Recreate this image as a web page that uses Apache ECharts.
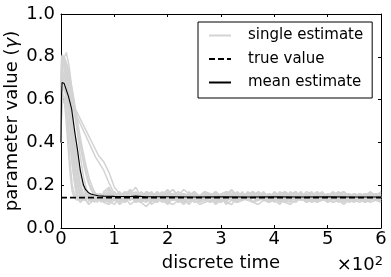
<!DOCTYPE html>
<html><head><meta charset="utf-8">
<script src="https://cdn.jsdelivr.net/npm/echarts@6/dist/echarts.min.js"></script>
<style>html,body{margin:0;padding:0;background:#fff}#c{width:391px;height:277px}</style>
</head><body><div id="c"></div>
<script>
// ---- data ----
const xTicks = [0, 1, 2, 3, 4, 5, 6];            // ×10^2
const yTicks = [0.0, 0.2, 0.4, 0.6, 0.8, 1.0];
const trueValue = 0.142;
const meanEstimate = [[0,0.40],[1,0.62],[2,0.68],[3,0.688],[6,0.675],[10,0.645],[14,0.615],[20,0.555],[26,0.445],[31,0.365],[36,0.272],[42,0.202],[46,0.18],[51,0.166],[56,0.159],[61,0.155],[70,0.151],[80,0.149],[100,0.148],[130,0.147],[140,0.149],[160,0.146],[200,0.146],[250,0.145],[300,0.146],[350,0.145],[400,0.146],[450,0.145],[500,0.146],[550,0.145],[600,0.145]];

// early (rise & decay) part of each single estimate, [time, value]
const early1  = [[0,.4],[1,.60],[3,.63],[6,.60],[9,.52],[12,.42],[15,.32],[18,.23],[21,.17],[25,.14],[30,.13],[36,.15],[44,.13],[52,.15],[60,.14],[70,.13]];
const early2  = [[0,.4],[1,.70],[3,.72],[6,.68],[9,.60],[12,.49],[15,.38],[18,.28],[21,.20],[25,.16],[30,.14],[37,.12],[45,.15],[53,.13],[62,.16],[71,.14]];
const early3  = [[0,.4],[1,.58],[3,.62],[6,.61],[10,.56],[14,.48],[18,.38],[22,.28],[26,.20],[30,.15],[36,.12],[44,.14],[52,.11],[60,.13],[68,.15],[75,.12]];
const early4  = [[0,.4],[1,.56],[3,.60],[6,.60],[9,.57],[13,.50],[17,.40],[21,.30],[25,.22],[29,.16],[34,.13],[40,.15],[47,.13],[55,.16],[63,.13],[71,.14]];
const early5  = [[0,.4],[1,.62],[3,.66],[7,.64],[11,.60],[15,.52],[19,.42],[23,.31],[27,.22],[31,.16],[36,.13],[42,.15],[50,.12],[58,.14],[66,.16],[73,.13]];
const early6  = [[0,.4],[1,.70],[3,.73],[6,.72],[10,.67],[14,.60],[19,.50],[24,.39],[29,.29],[34,.21],[39,.16],[45,.13],[52,.15],[60,.14],[68,.12],[75,.15]];
const early7  = [[0,.4],[1,.72],[3,.78],[6,.76],[10,.70],[15,.62],[20,.52],[25,.40],[30,.28],[35,.20],[40,.16],[48,.14],[56,.15],[64,.13],[72,.16]];
const early8  = [[0,.4],[1,.64],[3,.70],[7,.71],[11,.68],[16,.60],[21,.50],[26,.39],[31,.29],[36,.21],[41,.17],[47,.15],[55,.13],[63,.15],[71,.14]];
const early9  = [[0,.4],[1,.78],[3,.80],[7,.77],[11,.72],[16,.64],[22,.53],[28,.41],[34,.30],[40,.22],[46,.17],[53,.15],[61,.14],[69,.16],[76,.14]];
const early10 = [[0,.4],[1,.60],[4,.66],[8,.65],[12,.62],[17,.56],[23,.47],[29,.37],[35,.27],[41,.20],[47,.16],[55,.14],[63,.12],[71,.15]];
const early11 = [[0,.4],[1,.76],[4,.80],[8,.79],[12,.75],[18,.68],[24,.58],[30,.46],[36,.34],[42,.24],[48,.18],[54,.15],[62,.17],[70,.14]];
const early12 = [[0,.4],[1,.68],[4,.75],[8,.77],[13,.73],[18,.66],[24,.57],[30,.48],[36,.40],[42,.32],[48,.25],[54,.20],[60,.17],[68,.15],[75,.16]];
const early13 = [[0,.4],[1,.66],[3,.69],[6,.68],[10,.64],[14,.57],[18,.48],[22,.38],[26,.28],[30,.21],[34,.16],[40,.14],[48,.16],[56,.13],[64,.15],[72,.14]];
const early14 = [[0,.4],[1,.74],[3,.77],[7,.75],[11,.70],[15,.62],[20,.52],[26,.41],[32,.31],[38,.23],[44,.18],[50,.15],[58,.13],[66,.16],[74,.14]];
const early15 = [[0,.4],[1,.63],[4,.68],[9,.70],[14,.66],[20,.60],[26,.52],[32,.44],[38,.36],[44,.28],[50,.22],[56,.18],[62,.16],[70,.14]];
const early16 = [[0,.4],[1,.80],[3,.81],[6,.78],[10,.72],[14,.63],[18,.52],[22,.41],[26,.31],[30,.23],[34,.18],[39,.15],[45,.13],[53,.15],[61,.16],[69,.13]];
const early17 = [[0,.4],[1,.69],[4,.76],[8,.78],[12,.76],[17,.70],[23,.62],[29,.53],[35,.44],[41,.36],[47,.29],[53,.23],[59,.19],[65,.16],[72,.15]];
const early18 = [[0,.4],[1,.59],[3,.64],[7,.66],[11,.63],[15,.56],[19,.47],[23,.37],[27,.27],[31,.20],[35,.16],[41,.13],[49,.15],[57,.12],[65,.14],[73,.16]];
const early19 = [[0,.4],[1,.74],[5,.79],[10,.82],[15,.76],[20,.66],[26,.56],[48,.45],[70,.34]];
const early20 = [[0,.4],[1,.66],[4,.72],[9,.74],[14,.70],[19,.62],[24,.55],[45,.44],[65,.33]];

// noisy tail of each single estimate, values at t = 80, 90, ..., 600
const tailStart = 80, tailStep = 10;
const tail1 = [.16,.14,.15,.13,.17,.15,.12,.14,.16,.15,.13,.14,.17,.15,.14,.12,.15,.16,.14,.13,.15,.17,.14,.15,.13,.16,.14,.15,.12,.14,.16,.15,.13,.15,.14,.17,.15,.13,.14,.16,.15,.14,.12,.15,.16,.14,.15,.13,.16,.14,.15,.14,.15];
const tail2 = [.13,.15,.17,.14,.12,.15,.16,.13,.15,.14,.17,.13,.15,.16,.12,.14,.15,.17,.13,.15,.14,.16,.12,.15,.14,.13,.16,.15,.14,.17,.13,.15,.14,.12,.16,.15,.14,.16,.13,.15,.14,.16,.15,.13,.14,.17,.14,.15,.13,.15,.16,.14,.13];
const tail3 = [.17,.19,.15,.16,.14,.18,.15,.13,.17,.15,.14,.16,.18,.15,.13,.16,.15,.17,.14,.16,.15,.13,.16,.17,.15,.14,.16,.15,.17,.14,.16,.15,.13,.16,.17,.15,.14,.16,.15,.17,.14,.16,.15,.17,.15,.14,.16,.15,.14,.16,.15,.16,.15];
const tail4 = [.12,.11,.13,.12,.14,.11,.13,.12,.10,.13,.12,.14,.12,.11,.13,.12,.14,.13,.11,.12,.13,.12,.14,.11,.13,.12,.13,.14,.12,.11,.13,.12,.14,.13,.12,.11,.13,.14,.12,.13,.12,.14,.13,.12,.13,.11,.13,.12,.14,.13,.12,.13,.12];
const tail5 = [.14,.16,.13,.15,.16,.14,.17,.15,.13,.16,.15,.14,.16,.18,.15,.14,.16,.13,.15,.17,.14,.16,.15,.13,.15,.16,.14,.17,.15,.14,.16,.13,.15,.16,.14,.15,.17,.14,.15,.13,.16,.15,.14,.16,.15,.13,.15,.16,.14,.15,.14,.16,.15];
const tail6 = [.15,.13,.14,.16,.13,.15,.14,.12,.16,.14,.15,.13,.16,.14,.12,.15,.14,.16,.13,.14,.15,.12,.14,.16,.13,.15,.14,.13,.15,.16,.14,.12,.15,.14,.16,.13,.15,.14,.12,.15,.14,.16,.13,.15,.14,.13,.15,.14,.16,.13,.15,.14,.14];
const tail7 = [.15,.17,.14,.16,.15,.13,.16,.14,.17,.15,.14,.16,.13,.15,.17,.14,.15,.16,.14,.13,.16,.15,.14,.17,.15,.13,.15,.16,.14,.15,.17,.14,.15,.13,.16,.15,.14,.16,.15,.13,.15,.17,.14,.15,.16,.14,.13,.15,.16,.15,.14,.15,.16];
const tail8 = [.14,.12,.15,.13,.14,.16,.12,.15,.13,.14,.12,.15,.14,.13,.16,.14,.12,.15,.13,.14,.15,.13,.12,.14,.16,.13,.15,.14,.12,.15,.14,.13,.15,.12,.14,.15,.13,.16,.14,.12,.15,.13,.14,.15,.12,.14,.13,.15,.14,.13,.14,.15,.13];
const tail9 = [.16,.18,.15,.17,.14,.16,.19,.15,.16,.14,.17,.15,.16,.18,.14,.16,.15,.17,.15,.16,.14,.17,.15,.16,.18,.15,.14,.16,.17,.15,.16,.14,.17,.15,.16,.15,.17,.14,.16,.15,.17,.15,.16,.14,.16,.17,.15,.16,.15,.14,.16,.15,.17];
const tail10 = [.14,.13,.11,.14,.12,.15,.13,.12,.14,.11,.13,.15,.12,.14,.13,.11,.14,.12,.13,.15,.12,.13,.14,.12,.11,.14,.13,.15,.12,.13,.14,.12,.13,.11,.14,.13,.12,.14,.13,.15,.12,.13,.14,.12,.13,.14,.12,.13,.15,.12,.13,.14,.13];
const tail11 = [.15,.13,.16,.14,.15,.17,.13,.14,.16,.15,.13,.15,.14,.16,.15,.13,.17,.14,.15,.16,.14,.13,.15,.16,.14,.15,.13,.14,.16,.15,.14,.16,.15,.13,.15,.14,.16,.15,.14,.16,.13,.15,.14,.16,.15,.14,.15,.13,.15,.16,.15,.14,.15];
const tail12 = [.13,.16,.14,.12,.15,.13,.16,.14,.13,.15,.16,.14,.12,.15,.13,.14,.16,.15,.13,.14,.15,.16,.14,.12,.15,.14,.13,.15,.16,.14,.13,.15,.14,.16,.13,.14,.15,.13,.16,.14,.15,.13,.14,.16,.14,.15,.14,.16,.13,.15,.14,.13,.15];
const tail13 = [.14,.16,.13,.15,.17,.14,.13,.15,.16,.14,.12,.15,.17,.13,.14,.16,.15,.13,.14,.16,.15,.14,.12,.15,.16,.14,.17,.13,.15,.14,.16,.15,.13,.14,.17,.15,.14,.13,.16,.14,.15,.13,.16,.14,.15,.17,.13,.14,.16,.15,.13,.15,.14];
const tail14 = [.15,.13,.14,.16,.12,.15,.14,.17,.15,.13,.16,.14,.15,.13,.17,.15,.14,.16,.12,.15,.14,.16,.15,.13,.14,.17,.15,.14,.16,.13,.15,.14,.16,.15,.13,.15,.17,.14,.15,.16,.14,.13,.15,.16,.14,.15,.13,.16,.15,.14,.16,.15,.14];
const tail15 = [.16,.15,.17,.14,.16,.18,.15,.14,.17,.16,.15,.17,.14,.16,.15,.18,.16,.14,.15,.17,.16,.15,.14,.16,.17,.15,.16,.14,.15,.17,.15,.16,.14,.17,.15,.16,.15,.14,.17,.16,.15,.14,.16,.15,.17,.15,.16,.14,.16,.15,.17,.15,.16];
const tail16 = [.13,.12,.14,.11,.13,.15,.12,.13,.14,.12,.15,.13,.11,.14,.13,.12,.14,.15,.12,.13,.14,.11,.13,.15,.13,.12,.14,.13,.12,.14,.13,.15,.12,.14,.13,.12,.15,.13,.14,.12,.13,.14,.12,.15,.13,.12,.14,.13,.12,.14,.13,.14,.12];
const tail17 = [.15,.14,.16,.13,.15,.14,.16,.15,.13,.15,.14,.16,.15,.13,.14,.15,.16,.14,.15,.13,.16,.14,.15,.16,.13,.15,.14,.16,.14,.15,.13,.16,.15,.14,.15,.13,.14,.16,.15,.14,.16,.15,.13,.15,.14,.16,.14,.15,.15,.14,.15,.16,.14];
const tail18 = [.12,.14,.13,.15,.12,.14,.16,.13,.12,.15,.14,.12,.13,.15,.14,.13,.11,.14,.15,.13,.12,.14,.13,.15,.14,.12,.13,.14,.16,.13,.14,.12,.15,.13,.12,.14,.13,.15,.12,.14,.13,.15,.12,.14,.13,.12,.15,.14,.13,.12,.14,.13,.14];
const tail19 = [.31,.26,.19,.16,.15,.17,.14,.16,.15,.13,.16,.15,.17,.14,.15,.16,.14,.13,.15,.17,.15,.14,.16,.15,.13,.16,.14,.15,.17,.14,.15,.16,.13,.15,.14,.16,.15,.17,.14,.15,.13,.16,.15,.14,.16,.15,.14,.13,.15,.16,.14,.15,.16];
const tail20 = [.27,.21,.16,.14,.15,.13,.16,.14,.15,.17,.14,.13,.15,.16,.14,.15,.13,.16,.14,.15,.16,.14,.13,.15,.16,.14,.15,.13,.14,.16,.15,.14,.16,.13,.15,.14,.16,.15,.14,.13,.15,.16,.14,.15,.13,.15,.16,.14,.15,.14,.13,.15,.14];

const earlies = [early1,early2,early3,early4,early5,early6,early7,early8,early9,early10,early11,early12,early13,early14,early15,early16,early17,early18,early19,early20];
const tails = [tail1,tail2,tail3,tail4,tail5,tail6,tail7,tail8,tail9,tail10,tail11,tail12,tail13,tail14,tail15,tail16,tail17,tail18,tail19,tail20];

// ---- chart ----
const FONT = 'DejaVu Sans';
const GRAY = '#d3d3d3';
const series = [];
earlies.forEach((e, i) => {
  const d = e.concat(tails[i].map((v, j) => [tailStart + tailStep * j, v]));
  series.push({
    name: 'single estimate', type: 'line', data: d, symbol: 'none', silent: true,
    lineStyle: { color: GRAY, width: 1.5 }, itemStyle: { color: GRAY }, z: 1
  });
});
series.push({
  name: 'true value', type: 'line', data: [[0, trueValue], [600, trueValue]], symbol: 'none',
  lineStyle: { color: '#000', width: 1.6, type: [6, 3] }, itemStyle: { color: '#000' }, z: 3
});
series.push({
  name: 'mean estimate', type: 'line', data: meanEstimate, symbol: 'none',
  lineStyle: { color: '#000', width: 1.1 }, itemStyle: { color: '#000' }, z: 4
});

const axisCommon = {
  axisLine: { show: true, onZero: false, lineStyle: { color: '#000', width: 1 } },
  axisTick: { show: true, inside: true, length: 3, lineStyle: { color: '#000' } },
  splitLine: { show: false }
};

const chart = echarts.init(document.getElementById('c'), null, { renderer: 'canvas' });
chart.setOption({
  animation: false,
  backgroundColor: '#fff',
  grid: { left: 61, right: 10, top: 14, bottom: 49, containLabel: false, outerBoundsMode: 'none' },
  legend: {
    data: ['single estimate', 'true value', 'mean estimate'],
    orient: 'vertical', left: 198, top: 22,
    itemWidth: 22, itemHeight: 14, itemGap: 8.5,
    padding: [6, 9, 8, 10],
    borderColor: '#000', borderWidth: 1, borderRadius: 0,
    itemStyle: { opacity: 0 },
    textStyle: { fontFamily: FONT, fontSize: 15, color: '#000', padding: [0, 0, 0, 12] }
  },
  xAxis: [
    Object.assign({}, axisCommon, {
      type: 'value', min: 0, max: 600, interval: 100, position: 'bottom',
      axisLabel: { fontFamily: FONT, fontSize: 18, color: '#000', margin: 2,
        formatter: v => String(xTicks[Math.round(v / 100)]) },
      name: 'discrete time', nameLocation: 'middle', nameGap: 26, nameMoveOverlap: false,
      nameTextStyle: { fontFamily: FONT, fontSize: 18, color: '#000' }
    }),
    Object.assign({}, axisCommon, {
      type: 'value', min: 0, max: 600, interval: 100, position: 'top',
      axisLabel: { show: false }
    })
  ],
  yAxis: [
    Object.assign({}, axisCommon, {
      type: 'value', min: 0, max: 1, interval: 0.2, position: 'left',
      axisLabel: { fontFamily: FONT, fontSize: 18, color: '#000', margin: 6,
        formatter: v => yTicks[Math.round(v / 0.2)].toFixed(1) },
      name: 'parameter value ({g|γ})', nameLocation: 'middle', nameGap: 40, nameMoveOverlap: false,
      nameTextStyle: { fontFamily: FONT, fontSize: 18, color: '#000',
        rich: { g: { fontFamily: FONT, fontSize: 18, fontStyle: 'italic', color: '#000' } } }
    }),
    Object.assign({}, axisCommon, {
      type: 'value', min: 0, max: 1, interval: 0.2, position: 'right',
      axisLabel: { show: false }
    })
  ],
  graphic: [{
    type: 'text', right: 8, top: 255,
    style: {
      text: '×10{s|2}', fontFamily: FONT, fontSize: 18, fill: '#000',
      rich: { s: { fontFamily: FONT, fontSize: 13, verticalAlign: 'top', padding: [0, 0, 8, 0], fill: '#000' } }
    }
  }],
  series: series
});
</script>
</body></html>
